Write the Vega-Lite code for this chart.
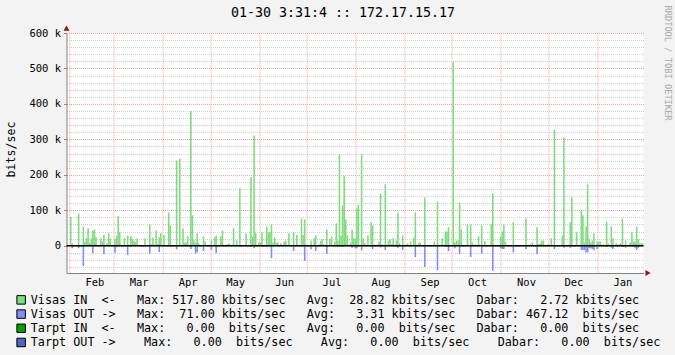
{
  "$schema": "https://vega.github.io/schema/vega-lite/v6.json",
  "width": 577,
  "height": 240,
  "autosize": {"type": "none"},
  "padding": {"left": 66.5, "top": 33, "right": 31.5, "bottom": 82},
  "background": "#F3F3F3",
  "config": {"view": {"stroke": null, "fill": "#FFFFFF"}},
  "title": {"text": "01-30 3:31:4 :: 172.17.15.17", "font": "DejaVu Sans Mono", "fontSize": 13.3, "fontWeight": "normal", "color": "#000000", "anchor": "middle", "frame": "group", "dx": -12, "dy": 22, "offset": 8},
  "data": {"values": [
    {"d":"2010-02-01","in":81000},
    {"d":"2010-02-02","in":6000,"out":-7000},
    {"d":"2010-02-06","in":91000,"out":-7000},
    {"d":"2010-02-09","in":54000,"out":-57000},
    {"d":"2010-02-10","in":11000},
    {"d":"2010-02-11","in":21000},
    {"d":"2010-02-12","in":49000},
    {"d":"2010-02-13","in":8000},
    {"d":"2010-02-14","in":20000},
    {"d":"2010-02-15","in":43000,"out":-21000},
    {"d":"2010-02-16","in":46000},
    {"d":"2010-02-17","in":24000},
    {"d":"2010-02-20","in":20000},
    {"d":"2010-02-21","in":12000},
    {"d":"2010-02-22","in":30000,"out":-24000},
    {"d":"2010-02-24","in":7000},
    {"d":"2010-02-25","in":35000},
    {"d":"2010-02-26","in":20000},
    {"d":"2010-03-01","in":18000,"out":-20000},
    {"d":"2010-03-02","in":28000,"out":-4000},
    {"d":"2010-03-03","in":83000},
    {"d":"2010-03-04","in":39000},
    {"d":"2010-03-07","in":21000},
    {"d":"2010-03-09","in":29000,"out":-26000},
    {"d":"2010-03-11","in":26000,"out":-3000},
    {"d":"2010-03-12","in":19000},
    {"d":"2010-03-13","in":14000},
    {"d":"2010-03-14","in":11000},
    {"d":"2010-03-15","in":20000},
    {"d":"2010-03-20","in":21000},
    {"d":"2010-03-23","in":60000,"out":-23000},
    {"d":"2010-03-24","in":4000},
    {"d":"2010-03-25","in":23000},
    {"d":"2010-03-27","in":43000},
    {"d":"2010-03-28","in":6000},
    {"d":"2010-03-29","in":24000,"out":-18000},
    {"d":"2010-03-30","in":35000},
    {"d":"2010-04-01","in":30000},
    {"d":"2010-04-04","in":94000},
    {"d":"2010-04-05","in":58000,"out":-4000},
    {"d":"2010-04-09","in":240000,"out":-10000},
    {"d":"2010-04-11","in":246000},
    {"d":"2010-04-13","in":49000},
    {"d":"2010-04-14","in":9000},
    {"d":"2010-04-15","in":9000},
    {"d":"2010-04-16","in":27000},
    {"d":"2010-04-18","in":379000,"out":-9000},
    {"d":"2010-04-19","in":86000},
    {"d":"2010-04-20","in":15000},
    {"d":"2010-04-21","in":9000,"out":-22000},
    {"d":"2010-04-22","in":35000,"out":-18000},
    {"d":"2010-04-23","in":7000},
    {"d":"2010-04-26","in":26000,"out":-15000},
    {"d":"2010-04-27","in":12000},
    {"d":"2010-05-01","in":15000,"out":-12000},
    {"d":"2010-05-03","in":24000},
    {"d":"2010-05-04","in":29000,"out":-21000},
    {"d":"2010-05-07","in":27000},
    {"d":"2010-05-08","in":43000},
    {"d":"2010-05-11","in":4000},
    {"d":"2010-05-12","in":7000},
    {"d":"2010-05-15","in":49000},
    {"d":"2010-05-17","in":15000},
    {"d":"2010-05-19","in":162000,"out":-4000},
    {"d":"2010-05-23","in":35000},
    {"d":"2010-05-26","in":193000,"out":-4000},
    {"d":"2010-05-27","in":25000},
    {"d":"2010-05-28","in":311000,"out":-7000},
    {"d":"2010-05-29","in":35000},
    {"d":"2010-05-31","in":9000},
    {"d":"2010-06-01","in":9000},
    {"d":"2010-06-02","in":38000,"out":-4000},
    {"d":"2010-06-05","in":54000,"out":-4000},
    {"d":"2010-06-06","in":38000},
    {"d":"2010-06-07","in":39000},
    {"d":"2010-06-08","in":60000,"out":-35000},
    {"d":"2010-06-09","in":9000},
    {"d":"2010-06-10","in":23000},
    {"d":"2010-06-11","in":9000},
    {"d":"2010-06-12","in":9000},
    {"d":"2010-06-14","in":7000},
    {"d":"2010-06-16","in":11000},
    {"d":"2010-06-17","in":15000},
    {"d":"2010-06-19","in":35000},
    {"d":"2010-06-22","in":38000,"out":-15000},
    {"d":"2010-06-24","in":30000},
    {"d":"2010-06-27","in":77000,"out":-2000},
    {"d":"2010-06-28","in":30000},
    {"d":"2010-06-29","in":74000,"out":-43000},
    {"d":"2010-07-03","in":15000,"out":-10000},
    {"d":"2010-07-05","in":21000},
    {"d":"2010-07-06","in":29000,"out":-15000},
    {"d":"2010-07-08","in":3000},
    {"d":"2010-07-09","in":13000},
    {"d":"2010-07-10","in":19000},
    {"d":"2010-07-11","in":4000},
    {"d":"2010-07-13","in":46000,"out":-23000},
    {"d":"2010-07-15","in":19000},
    {"d":"2010-07-16","in":26000},
    {"d":"2010-07-18","in":12000},
    {"d":"2010-07-19","in":63000},
    {"d":"2010-07-20","in":15000,"out":-2000},
    {"d":"2010-07-21","in":258000,"out":-4000},
    {"d":"2010-07-22","in":29000},
    {"d":"2010-07-23","in":114000,"out":-4000},
    {"d":"2010-07-24","in":196000},
    {"d":"2010-07-25","in":74000},
    {"d":"2010-07-26","in":29000},
    {"d":"2010-07-28","in":9000},
    {"d":"2010-07-29","in":46000,"out":-6000},
    {"d":"2010-07-30","in":21000},
    {"d":"2010-07-31","in":20000,"out":-7000},
    {"d":"2010-08-01","in":105000,"out":-7000},
    {"d":"2010-08-02","in":116000},
    {"d":"2010-08-04","in":260000,"out":-13000},
    {"d":"2010-08-05","in":21000},
    {"d":"2010-08-06","in":7000},
    {"d":"2010-08-08","in":29000},
    {"d":"2010-08-10","in":66000,"out":-4000},
    {"d":"2010-08-11","in":57000,"out":-9000},
    {"d":"2010-08-15","in":12000},
    {"d":"2010-08-16","in":147000,"out":-5000},
    {"d":"2010-08-17","in":4000},
    {"d":"2010-08-19","in":173000,"out":-12000},
    {"d":"2010-08-21","in":15000},
    {"d":"2010-08-22","in":18000},
    {"d":"2010-08-23","in":4000},
    {"d":"2010-08-24","in":21000},
    {"d":"2010-08-26","in":15000,"out":-4000},
    {"d":"2010-08-27","in":94000,"out":-6000},
    {"d":"2010-08-28","in":7000},
    {"d":"2010-08-30","in":29000,"out":-12000},
    {"d":"2010-09-02","in":7000},
    {"d":"2010-09-04","in":12000},
    {"d":"2010-09-06","in":23000},
    {"d":"2010-09-07","in":94000,"out":-32000},
    {"d":"2010-09-09","in":7000},
    {"d":"2010-09-10","in":9000},
    {"d":"2010-09-13","in":136000,"out":-60000},
    {"d":"2010-09-19","in":12000},
    {"d":"2010-09-21","in":125000,"out":-69000},
    {"d":"2010-09-24","in":21000},
    {"d":"2010-09-26","in":40000,"out":-4000},
    {"d":"2010-09-27","in":40000,"out":-4000},
    {"d":"2010-09-28","in":52000,"out":-15000},
    {"d":"2010-10-01","in":517800},
    {"d":"2010-10-02","in":9000,"out":-7000},
    {"d":"2010-10-03","in":15000},
    {"d":"2010-10-04","in":15000},
    {"d":"2010-10-05","in":122000,"out":-24000},
    {"d":"2010-10-06","in":46000},
    {"d":"2010-10-10","in":60000},
    {"d":"2010-10-12","in":60000,"out":-32000},
    {"d":"2010-10-13","in":9000},
    {"d":"2010-10-15","in":4000},
    {"d":"2010-10-17","in":26000},
    {"d":"2010-10-19","in":57000,"out":-23000},
    {"d":"2010-10-21","in":13000},
    {"d":"2010-10-25","in":61000},
    {"d":"2010-10-26","in":148000,"out":-71000},
    {"d":"2010-10-31","in":26000,"out":-7000},
    {"d":"2010-11-01","in":40000,"out":-9000},
    {"d":"2010-11-02","in":60000,"out":-9000},
    {"d":"2010-11-03","in":12000},
    {"d":"2010-11-08","in":66000,"out":-19000},
    {"d":"2010-11-16","in":77000,"out":-9000},
    {"d":"2010-11-19","in":4000},
    {"d":"2010-11-20","in":9000},
    {"d":"2010-11-23","in":52000,"out":-24000},
    {"d":"2010-11-24","in":4000},
    {"d":"2010-11-25","in":7000},
    {"d":"2010-11-26","in":15000},
    {"d":"2010-11-27","in":15000},
    {"d":"2010-11-30","in":4000},
    {"d":"2010-12-02","in":21000},
    {"d":"2010-12-04","in":328000,"out":-9000},
    {"d":"2010-12-09","in":29000},
    {"d":"2010-12-10","in":305000,"out":-6000},
    {"d":"2010-12-14","in":66000,"out":-6000},
    {"d":"2010-12-15","in":136000,"out":-4000},
    {"d":"2010-12-18","in":38000},
    {"d":"2010-12-21","in":100000,"out":-12000},
    {"d":"2010-12-22","in":86000,"out":-12000},
    {"d":"2010-12-23","in":9000,"out":-12000},
    {"d":"2010-12-24","in":54000,"out":-19000},
    {"d":"2010-12-25","in":173000,"out":-19000},
    {"d":"2010-12-26","in":20000,"out":-7000},
    {"d":"2010-12-27","in":9000,"out":-7000},
    {"d":"2010-12-28","in":15000,"out":-9000},
    {"d":"2010-12-29","in":35000,"out":-12000},
    {"d":"2010-12-31","in":12000,"out":-9000},
    {"d":"2011-01-01","in":12000},
    {"d":"2011-01-02","in":12000},
    {"d":"2011-01-04","in":4000},
    {"d":"2011-01-06","in":68000,"out":-4000},
    {"d":"2011-01-07","in":7000},
    {"d":"2011-01-09","in":54000,"out":-6000},
    {"d":"2011-01-10","in":21000,"out":-9000},
    {"d":"2011-01-12","in":7000},
    {"d":"2011-01-14","in":4000},
    {"d":"2011-01-15","in":7000},
    {"d":"2011-01-16","in":77000,"out":-4000},
    {"d":"2011-01-18","in":15000,"out":-6000},
    {"d":"2011-01-21","in":9000},
    {"d":"2011-01-22","in":38000,"out":-4000},
    {"d":"2011-01-23","in":12000},
    {"d":"2011-01-24","in":12000,"out":-6000},
    {"d":"2011-01-25","in":54000,"out":-12000},
    {"d":"2011-01-26","in":18000,"out":-6000},
    {"d":"2011-01-27","in":7000},
    {"d":"2011-01-28","in":7000},
    {"d":"2011-01-29","in":7000}
  ]},
  "resolve": {"scale": {"y": "shared"}, "axis": {"y": "independent"}},
  "layer": [
    {
      "mark": {"type": "bar", "clip": true, "binSpacing": 0, "timeUnitBandSize": 1, "timeUnitBandPosition": 0},
      "encoding": {
        "x": {
          "field": "d", "type": "temporal", "timeUnit": "utcyearmonthdate",
          "scale": {"type": "utc", "domain": [{"year": 2010, "month": 1, "date": 30, "hours": 3, "minutes": 31, "utc": true}, {"year": 2011, "month": 1, "date": 30, "hours": 3, "minutes": 31, "utc": true}]},
          "axis": {"title": null, "format": "%b", "tickCount": {"interval": "month", "step": 1}, "grid": true, "gridColor": "#E8A0A0", "gridDash": [1, 1], "ticks": false, "domainColor": "#808080", "labelFont": "DejaVu Sans Mono", "labelFontSize": 10.5, "labelColor": "#000000", "labelOffset": 25, "labelPadding": 4, "labelFlush": false, "labelOverlap": false, "labelAlign": "center"}
        },
        "y": {
          "field": "in", "type": "quantitative",
          "scale": {"domain": [-77000, 600000], "nice": false, "zero": false},
          "axis": {"title": "bits/sec", "values": [0, 100000, 200000, 300000, 400000, 500000, 600000], "labelExpr": "datum.value == 0 ? '0' : format(datum.value / 1000, 'd') + ' k'", "grid": true, "gridColor": "#E8A0A0", "gridDash": [1, 1], "tickSize": 3, "tickColor": "#D07070", "domainColor": "#808080", "labelFont": "DejaVu Sans Mono", "labelFontSize": 10.5, "labelColor": "#000000", "labelPadding": 3, "titleFont": "DejaVu Sans Mono", "titleFontSize": 11.6, "titleFontWeight": "normal", "titleColor": "#000000", "titleX": -50, "titleY": 116, "titleAngle": 270, "titleAlign": "center", "titleBaseline": "bottom"}
        },
        "color": {
          "datum": "Visas\u00a0IN\u00a0\u00a0<-\u00a0\u00a0\u00a0Max:\u00a0517.80\u00a0kbits/sec\u00a0\u00a0\u00a0Avg:\u00a0\u00a028.82\u00a0kbits/sec\u00a0\u00a0\u00a0Dabar:\u00a0\u00a0\u00a02.72\u00a0kbits/sec",
          "scale": {
            "domain": [
              "Visas\u00a0IN\u00a0\u00a0<-\u00a0\u00a0\u00a0Max:\u00a0517.80\u00a0kbits/sec\u00a0\u00a0\u00a0Avg:\u00a0\u00a028.82\u00a0kbits/sec\u00a0\u00a0\u00a0Dabar:\u00a0\u00a0\u00a02.72\u00a0kbits/sec",
              "Visas\u00a0OUT\u00a0->\u00a0\u00a0\u00a0Max:\u00a0\u00a071.00\u00a0kbits/sec\u00a0\u00a0\u00a0Avg:\u00a0\u00a0\u00a03.31\u00a0kbits/sec\u00a0\u00a0\u00a0Dabar:\u00a0467.12\u00a0\u00a0bits/sec",
              "Tarpt\u00a0IN\u00a0\u00a0<-\u00a0\u00a0\u00a0Max:\u00a0\u00a0\u00a00.00\u00a0\u00a0bits/sec\u00a0\u00a0\u00a0Avg:\u00a0\u00a0\u00a00.00\u00a0\u00a0bits/sec\u00a0\u00a0\u00a0Dabar:\u00a0\u00a0\u00a00.00\u00a0\u00a0bits/sec",
              "Tarpt\u00a0OUT\u00a0->\u00a0\u00a0\u00a0\u00a0Max:\u00a0\u00a0\u00a00.00\u00a0\u00a0bits/sec\u00a0\u00a0\u00a0\u00a0Avg:\u00a0\u00a0\u00a00.00\u00a0\u00a0bits/sec\u00a0\u00a0\u00a0\u00a0Dabar:\u00a0\u00a0\u00a00.00\u00a0\u00a0bits/sec"
            ],
            "range": ["#7FDC7F", "#7F8CFA", "#00A000", "#4A68C8"]
          },
          "legend": {"orient": "none", "legendX": -51.25, "legendY": 261, "direction": "vertical", "title": null, "symbolType": "square", "symbolSize": 72, "symbolStrokeColor": "#000000", "symbolStrokeWidth": 1, "symbolOpacity": 1, "labelFont": "DejaVu Sans Mono", "labelFontSize": 11.75, "labelColor": "#000000", "labelLimit": 1000, "labelOffset": 3.8, "rowPadding": 0.2, "padding": 0}
        }
      }
    },
    {
      "mark": {"type": "bar", "clip": true, "binSpacing": 0, "timeUnitBandSize": 1, "timeUnitBandPosition": 0},
      "encoding": {
        "x": {"field": "d", "type": "temporal", "timeUnit": "utcyearmonthdate"},
        "y": {
          "field": "out", "type": "quantitative",
          "axis": {"orient": "right", "values": [-60000, -40000, -20000, 20000, 40000, 60000, 80000, 120000, 140000, 160000, 180000, 220000, 240000, 260000, 280000, 320000, 340000, 360000, 380000, 420000, 440000, 460000, 480000, 520000, 540000, 560000, 580000], "grid": true, "gridColor": "#D0D0D0", "gridDash": [1, 1], "labels": false, "ticks": false, "domain": false, "title": "RRDTOOL / TOBI OETIKER", "titleFont": "DejaVu Sans Mono", "titleFontSize": 8.7, "titleFontWeight": "normal", "titleColor": "#A8A8A8", "titleAngle": 90, "titleX": 24, "titleY": 29.5, "titleAlign": "center", "titleBaseline": "middle"}
        },
        "color": {"datum": "Visas\u00a0OUT\u00a0->\u00a0\u00a0\u00a0Max:\u00a0\u00a071.00\u00a0kbits/sec\u00a0\u00a0\u00a0Avg:\u00a0\u00a0\u00a03.31\u00a0kbits/sec\u00a0\u00a0\u00a0Dabar:\u00a0467.12\u00a0\u00a0bits/sec"}
      }
    },
    {
      "data": {"values": [{}]},
      "mark": {"type": "rule", "color": "#000000", "strokeWidth": 1.5},
      "encoding": {"y": {"datum": 0, "axis": null}}
    },
    {
      "data": {"values": [{}]},
      "mark": {"type": "point", "shape": "triangle-right", "filled": true, "color": "#8B1A1A", "size": 36, "opacity": 1, "clip": false},
      "encoding": {
        "x": {"datum": {"year": 2011, "month": 2, "date": 2, "utc": true}, "type": "temporal"},
        "y": {"datum": -77000, "axis": null}
      }
    },
    {
      "data": {"values": [{}]},
      "mark": {"type": "point", "shape": "triangle-up", "filled": true, "color": "#8B1A1A", "size": 36, "opacity": 1, "clip": false},
      "encoding": {
        "x": {"datum": {"year": 2010, "month": 1, "date": 30, "hours": 3, "minutes": 31, "utc": true}, "type": "temporal"},
        "y": {"datum": 614000, "axis": null}
      }
    }
  ]
}
